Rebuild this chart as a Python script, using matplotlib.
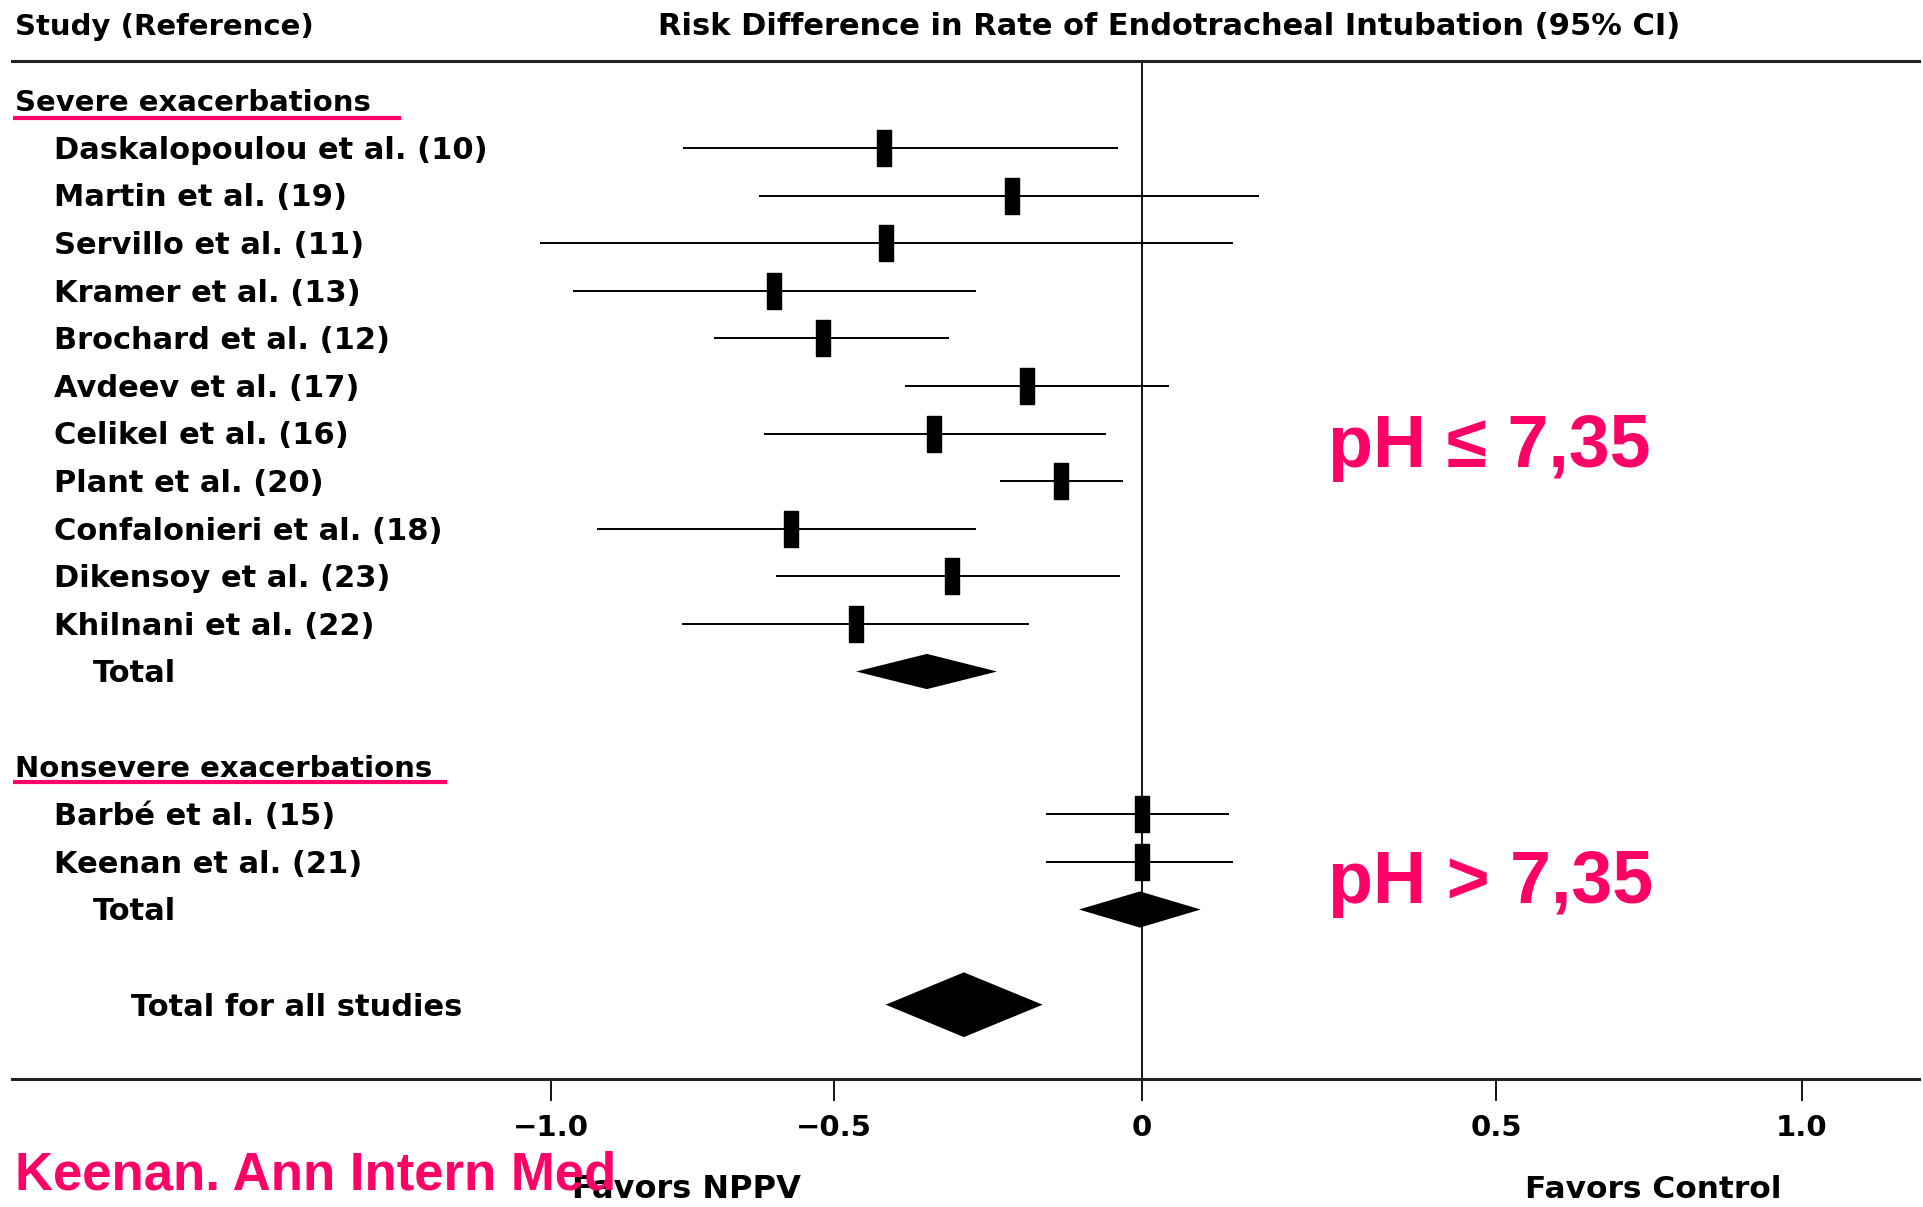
import numpy as np
import matplotlib as mpl
mpl.use('Agg')
import matplotlib.pyplot as plt

plt.rcParams['font.family'] = ['DejaVu Sans']

# ---- data (risk difference, 95% CI) ----
severe_names = ['Daskalopoulou et al. (10)', 'Martin et al. (19)', 'Servillo et al. (11)',
                'Kramer et al. (13)', 'Brochard et al. (12)', 'Avdeev et al. (17)',
                'Celikel et al. (16)', 'Plant et al. (20)', 'Confalonieri et al. (18)',
                'Dikensoy et al. (23)', 'Khilnani et al. (22)']
severe_rd = [-0.418, -0.211, -0.416, -0.606, -0.519, -0.187, -0.337, -0.131, -0.576, -0.309, -0.464]
severe_lo = [-0.766, -0.632, -1.019, -0.961, -0.712, -0.384, -0.623, -0.231, -0.918, -0.602, -0.768]
severe_hi = [-0.038, 0.166, 0.128, -0.269, -0.313, 0.038, -0.058, -0.030, -0.269, -0.036, -0.183]
severe_total = [-0.464, -0.349, -0.235]   # lo, est, hi

nonsevere_names = ['Barbé et al. (15)', 'Keenan et al. (21)']
nonsevere_rd = [0.0, 0.0]
nonsevere_lo = [-0.155, -0.155]
nonsevere_hi = [0.123, 0.128]
nonsevere_total = [-0.102, -0.003, 0.083]

all_total = [-0.416, -0.289, -0.161]

tick_values = [-1.0, -0.5, 0, 0.5, 1.0]
tick_labels = ['\u22121.0', '\u22120.5', '0', '0.5', '1.0']

# the original axis is not evenly spaced: piecewise scale through the printed ticks
scale_vals = [-10, -1.0, -0.5, 0, 0.5, 1.0, 10]
scale_pix = [-3709, 449, 680, 931, 1220, 1469, 5951]
def fwd(v):
    return np.interp(v, scale_vals, scale_pix)
def inv(p):
    return np.interp(p, scale_pix, scale_vals)

PINK = '#ff0066'
W, H = 1568, 984

fig = plt.figure(figsize=(19.23, 12.07), dpi=100)
ax = fig.add_axes([10 / W, 1 - 880 / H, 1555 / W, 830 / H])
ax.set_xscale('function', functions=(fwd, inv))
ax.set_xlim(inv(10), inv(1565))
ax.set_ylim(20.57, -0.82)

for s in ['left', 'right']:
    ax.spines[s].set_visible(False)
for s in ['top', 'bottom']:
    ax.spines[s].set_linewidth(2.2)
    ax.spines[s].set_color('#222222')
ax.set_yticks([])
ax.set_xticks(tick_values)
ax.set_xticklabels(tick_labels)
ax.xaxis.set_minor_locator(mpl.ticker.NullLocator())
ax.tick_params(axis='x', length=16, width=1.3, pad=9, labelsize=21)
for lab in ax.get_xticklabels():
    lab.set_fontweight('bold')

ax.axvline(0, color='black', lw=1.3)

box = [(-0.2, -0.5), (0.2, -0.5), (0.2, 0.5), (-0.2, 0.5), (-0.2, -0.5)]

def study(rows, est, lo, hi):
    ax.hlines(rows, lo, hi, color='black', lw=1.4)
    ax.plot(est, rows, ls='none', marker=box, markersize=26, color='black')

def diamond(row, lo, est, hi, h):
    ax.fill([lo, est, hi, est], [row, row - h, row, row + h], color='black', lw=0)

severe_rows = np.arange(1, 12)
study(severe_rows, severe_rd, severe_lo, severe_hi)
diamond(12, severe_total[0], severe_total[1], severe_total[2], 0.37)

ns_rows = np.arange(15, 17)
study(ns_rows, nonsevere_rd, nonsevere_lo, nonsevere_hi)
diamond(17, nonsevere_total[0], nonsevere_total[1], nonsevere_total[2], 0.38)

diamond(19, all_total[0], all_total[1], all_total[2], 0.68)

# ---- left labels ----
ytr = ax.get_yaxis_transform()
def ax_x(px):
    return (px - 10) / 1555

lab_kw = dict(transform=ytr, va='center', ha='left', fontsize=22, fontweight='bold')
hdr_kw = dict(lab_kw, fontsize=21)
ax.text(ax_x(12), 0.05, 'Severe exacerbations', **hdr_kw)
ax.plot([ax_x(12), ax_x(325)], [0.37, 0.37], transform=ytr, color=PINK, lw=3, clip_on=False)
for r, n in zip(severe_rows, severe_names):
    ax.text(ax_x(44), r + 0.05, n, **lab_kw)
ax.text(ax_x(76), 12.05, 'Total', **lab_kw)

ax.text(ax_x(12), 14.05, 'Nonsevere exacerbations', **hdr_kw)
ax.plot([ax_x(12), ax_x(363)], [14.33, 14.33], transform=ytr, color=PINK, lw=3, clip_on=False)
for r, n in zip(ns_rows, nonsevere_names):
    ax.text(ax_x(44), r + 0.05, n, **lab_kw)
ax.text(ax_x(76), 17.05, 'Total', **lab_kw)
ax.text(ax_x(107), 19.05, 'Total for all studies', **lab_kw)

# ---- header / footer text ----
fig.text(12 / W, 1 - 22 / H, 'Study (Reference)', ha='left', va='center', fontsize=21, fontweight='bold')
fig.text(953 / W, 1 - 22 / H, 'Risk Difference in Rate of Endotracheal Intubation (95% CI)',
         ha='center', va='center', fontsize=22, fontweight='bold')
fig.text(560 / W, 1 - 970 / H, 'Favors NPPV', ha='center', va='center', fontsize=23, fontweight='bold')
fig.text(1348 / W, 1 - 970 / H, 'Favors Control', ha='center', va='center', fontsize=22.5, fontweight='bold')

pink_kw = dict(color=PINK, fontweight='bold', family=['Liberation Sans', 'DejaVu Sans'])
fig.text(1083 / W, 1 - 365 / H, 'pH \u2264 7,35', ha='left', va='center', fontsize=53, **pink_kw)
fig.text(1083 / W, 1 - 720 / H, 'pH > 7,35', ha='left', va='center', fontsize=53, **pink_kw)
fig.text(12 / W, 1 - 958 / H, 'Keenan. Ann Intern Med', ha='left', va='center', fontsize=38, **pink_kw)

fig.savefig('out.png', dpi=100)
